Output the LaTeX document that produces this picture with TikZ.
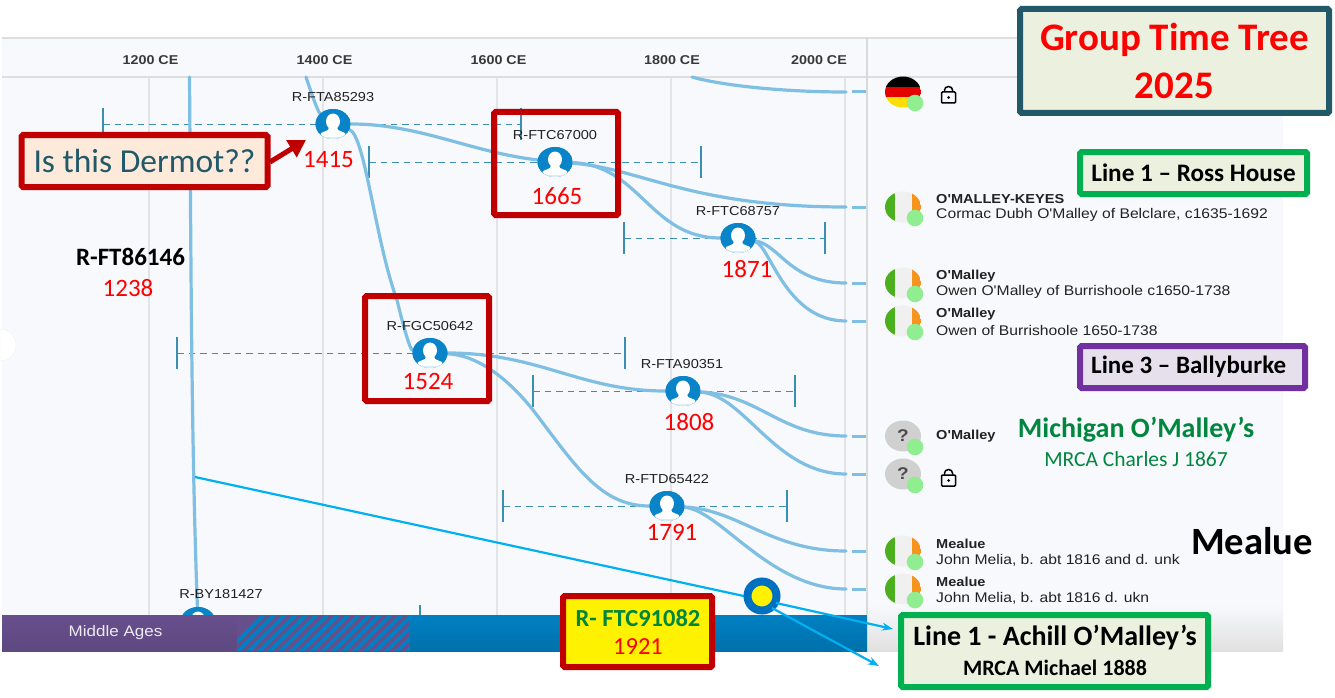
\documentclass[tikz,border=0pt]{standalone}
\usepackage{fontspec}
\setmainfont{Carlito}
\newfontfamily\uifont[FakeStretch=1.12]{Liberation Sans}
\usetikzlibrary{arrows.meta,shapes.geometric,calc}
\pgfdeclarelayer{panel}
\pgfdeclarelayer{conn}
\pgfsetlayers{panel,conn,main}
\definecolor{panelbg}{HTML}{F8F9FD}
\definecolor{gridc}{HTML}{E3E4E8}
\definecolor{branch}{HTML}{7FBFE3}
\definecolor{errc}{HTML}{3A8FB0}
\definecolor{avblue}{HTML}{0A84C8}
\definecolor{boxred}{HTML}{C00000}
\definecolor{cyanl}{HTML}{00B0F0}
\definecolor{boxgreen}{HTML}{00B050}
\definecolor{paleg}{HTML}{EBF1DE}
\definecolor{darkteal}{HTML}{215968}
\definecolor{txtg}{HTML}{00863D}
\definecolor{lightg}{HTML}{90EE90}
\definecolor{irgreen}{HTML}{4CAF20}
\definecolor{irwhite}{HTML}{F0F0F0}
\definecolor{irorange}{HTML}{F7941D}
\definecolor{qgrey}{HTML}{D0D0D0}
\definecolor{barpurple}{HTML}{674F8C}
\definecolor{barblue}{HTML}{0080C2}
\definecolor{txtdark}{HTML}{222222}
\definecolor{linepurple}{HTML}{7030A0}
\definecolor{palepurple}{HTML}{E6E0EC}
\definecolor{paleorange}{HTML}{FDEADA}
\definecolor{ringblue}{HTML}{0070C0}
\tikzset{
  x=1pt,y=-1pt,
  curve/.style={draw=branch,line width=3.2pt,line cap=round},
  errline/.style={draw=errc,line width=0.9pt,dash pattern=on 6.5pt off 5pt},
  errtick/.style={draw=errc,line width=1.2pt},
  avatarnode/.style={ellipse,fill=avblue,minimum width=35pt,minimum height=30pt,inner sep=0pt},
  cladelabel/.style={font=\uifont\fontsize{13}{14}\selectfont,text=txtdark,inner sep=0pt},
  agelabel/.style={font=\fontsize{25}{26}\selectfont,text=red,inner sep=0pt},
  axislabel/.style={font=\uifont\bfseries\fontsize{12.8}{14}\selectfont,text=txtdark!90,inner sep=0pt},
  listname/.style={font=\uifont\bfseries\fontsize{13}{15}\selectfont,text=txtdark,anchor=west,inner sep=0pt},
  listsub/.style={font=\uifont\fontsize{14}{15}\selectfont,text=txtdark,anchor=west,inner sep=0pt},
  framebox/.style={rounded corners=1.5pt,inner sep=0pt,line width=6pt,align=center},
  cyanarrow/.style={draw=cyanl,line width=2.2pt,-{Stealth[length=11pt,width=8pt]}},
}
\newcommand{\errbar}[5]{% name, x1, x2, y, clade
  \coordinate (#1lo) at (#2,#4);
  \coordinate (#1hi) at (#3,#4);
  \draw[errline] (#1lo) -- (#1hi);
  \draw[errtick] ($(#1lo)+(0,-16)$) -- ($(#1lo)+(0,16)$);
  \draw[errtick] ($(#1hi)+(0,-16)$) -- ($(#1hi)+(0,16)$);
}
\newcommand{\avatarat}[1]{%
  \begin{scope}
    \clip (#1) ellipse [x radius=17.5pt,y radius=15pt];
    \fill[avblue] (#1) ellipse [x radius=17.5pt,y radius=15pt];
    \fill[white] ($(#1)+(0,-2.5)$) ellipse [x radius=7pt,y radius=8pt];
    \fill[white] ($(#1)+(-4,3)$) -- ($(#1)+(4,3)$) -- ($(#1)+(5,6)$) -- ($(#1)+(12,9)$) -- ($(#1)+(13,16)$) -- ($(#1)+(-13,16)$) -- ($(#1)+(-12,9)$) -- ($(#1)+(-5,6)$) -- cycle;
    \fill[white!85!avblue] ($(#1)+(-17.5,12.5)$) rectangle ($(#1)+(17.5,16)$);
  \end{scope}
}
\newcommand{\irflag}[2]{% name, y
  \node[ellipse,minimum width=36pt,minimum height=31pt,inner sep=0pt] (#1) at (903,#2) {};
  \begin{scope}
    \clip (903,#2) ellipse [x radius=18pt,y radius=15.5pt];
    \fill[irwhite] (885,#2-16) rectangle (921,#2+16);
    \fill[irgreen] (885,#2-16) rectangle (895,#2+16);
    \fill[irorange] (912,#2-16) rectangle (921,#2+16);
  \end{scope}
  \fill[lightg] (915,#2+11) circle (8.3pt);
}
\newcommand{\qflag}[2]{% name, y
  \node[ellipse,fill=qgrey,minimum width=36pt,minimum height=31pt,inner sep=0pt,
        font=\uifont\bfseries\fontsize{17}{17}\selectfont,text=black!70] (#1) at (903,#2) {?};
  \fill[lightg] (915,#2+11) circle (8.3pt);
}
\newcommand{\lockicon}[2]{% x,y centre of body
  \draw[black,line width=1.5pt,rounded corners=1pt] (#1-7,#2-3.5) rectangle (#1+7,#2+7.5);
  \draw[black,line width=1.5pt] (#1-4,#2-3.5) -- (#1-4,#2-5.5) arc[start angle=180,end angle=0,x radius=4pt,y radius=3.5pt] -- (#1+4,#2-3.5);
  \fill[black] (#1,#2+2) circle (1.5pt);
}
\begin{document}
\begin{tikzpicture}
\useasboundingbox (0,0) rectangle (1335,698);
\begin{pgfonlayer}{panel}
  \fill[white] (0,0) rectangle (1335,698);
  \fill[panelbg] (2,38) rectangle (1283,651);
  \fill[top color=panelbg,bottom color=black!12] (867,605) rectangle (1283,651);
  \foreach \gx in {149,323,497,671,845}{\draw[gridc,line width=1.4pt] (\gx,77) -- (\gx,615);}
  \draw[black!13,line width=1.3pt] (2,38) -- (1020,38);
  \draw[black!13,line width=1.3pt] (2,77) -- (1020,77);
  \draw[black!15,line width=1.3pt] (867,38) -- (867,615);
  \fill[white,draw=black!6] (0,329) arc[start angle=90,end angle=-90,x radius=16pt,y radius=16pt] -- cycle;
\end{pgfonlayer}

% clade nodes
\node[avatarnode] (fta85) at (333,124) {};
\node[avatarnode] (ftc67) at (555,162) {};
\node[avatarnode] (ftc68) at (738,238) {};
\node[avatarnode] (fgc50) at (430,353) {};
\node[avatarnode] (fta90) at (683,391) {};
\node[avatarnode] (ftd65) at (667,506) {};
\node[avatarnode] (by181) at (198,622) {};
\foreach \a in {fta85,ftc67,ftc68,fgc50,fta90,ftd65,by181}{\avatarat{\a}}

% free ends
\coordinate (trunktop) at (189.5,77);
\coordinate (ftatop) at (306,77);
\coordinate (germtop) at (692,77);
\coordinate (e1) at (846,92);
\coordinate (e2) at (846,207);
\coordinate (e3) at (846,283);
\coordinate (e4) at (846,321);
\coordinate (e5) at (846,436);
\coordinate (e6) at (846,474);
\coordinate (e7) at (846,551);
\coordinate (e8) at (846,589);

\begin{pgfonlayer}{conn}
  \errbar{a}{103}{521}{124}{fta85}
  \errbar{b}{369}{701}{162}{ftc67}
  \errbar{c}{624}{825}{238}{ftc68}
  \errbar{d}{177}{625}{353}{fgc50}
  \errbar{f}{533}{795}{391}{fta90}
  \errbar{g}{503}{787}{506}{ftd65}
  \draw[errtick] (420,605) -- (420,615);
  \draw[curve] (trunktop) -- (191,270) .. controls (192,400) and (194,520) .. (by181);
  \draw[curve] (ftatop) .. controls (312,95) and (318,112) .. (fta85);
  \draw[curve] (fta85) .. controls (365,135) and (375,240) .. (397,300) .. controls (403,325) and (410,350) .. (fgc50);
  \draw[curve] (fta85) .. controls (420,124) and (470,152) .. (ftc67);
  \draw[curve] (germtop) .. controls (720,85) and (780,92) .. (e1);
  \draw[curve] (ftc67) .. controls (640,168) and (690,207) .. (e2);
  \draw[curve] (ftc67) .. controls (640,165) and (650,238) .. (ftc68);
  \draw[curve] (ftc68) .. controls (780,245) and (790,283) .. (e3);
  \draw[curve] (ftc68) .. controls (770,245) and (785,321) .. (e4);
  \draw[curve] (fgc50) .. controls (540,353) and (580,391) .. (fta90);
  \draw[curve] (fgc50) .. controls (475,355) and (505,375) .. (533,410) .. controls (575,465) and (600,506) .. (ftd65);
  \draw[curve] (fta90) .. controls (760,395) and (780,436) .. (e5);
  \draw[curve] (fta90) .. controls (745,395) and (775,474) .. (e6);
  \draw[curve] (ftd65) .. controls (740,510) and (770,551) .. (e7);
  \draw[curve] (ftd65) .. controls (720,510) and (770,589) .. (e8);
  \foreach \e in {e1,e2,e3,e4,e5,e6,e7,e8}{\draw[draw=branch,line width=3pt] ($(\e)+(6,0)$) -- ($(\e)+(20,0)$);}
\end{pgfonlayer}

% timeline bar
\fill[top color=barpurple,bottom color=barpurple!92!black] (2,615) rectangle (237,651);
\fill[top color=barblue,bottom color=barblue!88!black] (237,615) rectangle (867,651);
\begin{scope}
  \clip (237,615) rectangle (410,651);
  \fill[barpurple] (237,615) rectangle (410,651);
  \foreach \i in {0,...,19}{\fill[barblue] (225+\i*10.6,651) -- (230.3+\i*10.6,651) -- (266.3+\i*10.6,615) -- (261+\i*10.6,615) -- cycle;}
\end{scope}
\node[font=\uifont\fontsize{15.2}{16}\selectfont,text=white!88!barpurple,inner sep=0pt] (midages) at (115.5,633) {Middle Ages};

% axis
\node[axislabel] (ax12) at (150.5,60) {1200 CE};
\node[axislabel] (ax14) at (324.5,60) {1400 CE};
\node[axislabel] (ax16) at (498.5,60) {1600 CE};
\node[axislabel] (ax18) at (672,60) {1800 CE};
\node[axislabel] (ax20) at (819,60) {2000 CE};

% clade labels
\node[cladelabel] (l1) at (333,97) {R-FTA85293};
\node[cladelabel] (l2) at (555,135) {R-FTC67000};
\node[cladelabel] (l3) at (738,211) {R-FTC68757};
\node[cladelabel] (l4) at (430,326) {R-FGC50642};
\node[cladelabel] (l5) at (682,364) {R-FTA90351};
\node[cladelabel] (l6) at (667,479) {R-FTD65422};
\node[cladelabel] (l7) at (221,594) {R-BY181427};

\node[agelabel] (a1) at (328.5,160) {1415};
\node[agelabel] (a2) at (557,196) {1665};
\node[agelabel] (a3) at (747,269) {1871};
\node[agelabel] (a4) at (428,381) {1524};
\node[agelabel] (a5) at (689,422) {1808};
\node[agelabel] (a6) at (672,532) {1791};
\node[agelabel] (a7) at (128,288) {1238};
\node[font=\bfseries\fontsize{25}{26}\selectfont,inner sep=0pt] (root) at (130.5,257) {R-FT86146};

% right list
\node[ellipse,minimum width=36pt,minimum height=31pt,inner sep=0pt] (fl1) at (903,92) {};
\begin{scope}
  \clip (903,92) ellipse [x radius=18pt,y radius=15.5pt];
  \fill[black] (885,76) rectangle (921,87);
  \fill[red!90!black] (885,87) rectangle (921,97);
  \fill[yellow!80!orange] (885,97) rectangle (921,108);
\end{scope}
\fill[lightg] (915,103) circle (8.3pt);
\lockicon{948.5}{95.5}
\irflag{fl2}{207}
\irflag{fl3}{283}
\irflag{fl4}{321}
\qflag{fl5}{436}
\qflag{fl6}{474}
\irflag{fl7}{551}
\irflag{fl8}{589}
\lockicon{948.5}{478.5}

\node[listname] (n2) at (936,199.5) {O'MALLEY-KEYES};
\node[listsub] (s2) at (936,215) {Cormac Dubh O'Malley of Belclare, c1635-1692};
\node[listname] (n3) at (936,276) {O'Malley};
\node[listsub] (s3) at (936,292) {Owen O'Malley of Burrishoole c1650-1738};
\node[listname] (n4) at (936,314) {O'Malley};
\node[listsub] (s4) at (936,330) {Owen of Burrishoole 1650-1738};
\node[listname] (n5) at (936,436.5) {O'Malley};
\node[listname] (n7) at (936,544) {Mealue};
\node[listsub] (s7) at (936,560) {John Melia, b. abt 1816 and d. unk};
\node[listname] (n8) at (936,582) {Mealue};
\node[listsub] (s8) at (936,598) {John Melia, b. abt 1816 d. ukn};

% annotations
\node[draw=darkteal,fill=paleg,framebox,minimum width=309pt,minimum height=104pt,font=\bfseries\fontsize{39}{48}\selectfont,text=red] (title) at (1174.5,61) {Group Time Tree\\2025};
\node[draw=boxgreen,fill=paleg,framebox,minimum width=227pt,minimum height=42pt,font=\bfseries\fontsize{25.2}{28}\selectfont] (ross) at (1193.5,173) {Line 1 -- Ross House};
\node[draw=linepurple,fill=palepurple,framebox,minimum width=225pt,minimum height=42pt] (bally) at (1192.5,367) {};
\node[font=\bfseries\fontsize{25}{28}\selectfont,inner sep=0pt,anchor=west] (ballyt) at (1091,367) {Line 3 -- Ballyburke};
\node[font=\bfseries\fontsize{28}{30}\selectfont,text=txtg,inner sep=0pt] (mich) at (1136,430) {Michigan O’Malley’s};
\node[font=\fontsize{21.5}{24}\selectfont,text=txtg,inner sep=0pt] (mrca) at (1136,459) {MRCA Charles J 1867};
\node[font=\bfseries\fontsize{38.6}{40}\selectfont,inner sep=0pt] (meal) at (1252,541) {Mealue};

\node[draw=boxred,fill=paleorange,framebox,minimum width=246pt,minimum height=52pt,font=\fontsize{33.5}{36}\selectfont,text=darkteal] (dermot) at (144.5,161) {Is this Dermot??};
\coordinate (dermottip) at (306,140);
\draw[draw=boxred,line width=5pt,-{Triangle[length=17pt,width=19pt]}] (270,162) -- (dermottip);
\node[draw=boxred,framebox,minimum width=124pt,minimum height=103pt] (boxa) at (556,163.5) {};
\node[draw=boxred,framebox,minimum width=124pt,minimum height=105pt] (boxb) at (427,348.5) {};

\coordinate (cstart) at (195,477);
\draw[draw=cyanl,line width=2.2pt] (cstart) -- (776,603);
\node[circle,draw=ringblue,fill=yellow,line width=8pt,minimum size=29pt,inner sep=0pt] (ftcdot) at (762,596) {};
\node[draw=boxgreen,fill=paleg,framebox,minimum width=307pt,minimum height=72pt] (achill) at (1054.5,651) {};
\node[font=\bfseries\fontsize{28}{30}\selectfont,inner sep=0pt] (achillt) at (1055,638) {Line 1 - Achill O’Malley’s};
\node[font=\bfseries\fontsize{22}{24}\selectfont,inner sep=0pt] (achills) at (1055,668) {MRCA Michael 1888};
\coordinate (tip1) at (893,629);
\coordinate (tip2) at (879,666);
\draw[cyanarrow] (ftcdot) ++(14,7) -- (tip1);
\draw[cyanarrow] (ftcdot) ++(10,12) -- (tip2);
\node[draw=boxred,fill=yellow,framebox,minimum width=149pt,minimum height=71pt] (ybox) at (637.5,631.5) {};
\node[font=\bfseries\fontsize{24.5}{26}\selectfont,text=txtg,inner sep=0pt] (yt) at (638,618) {R- FTC91082};
\node[font=\fontsize{24.5}{26}\selectfont,text=red,inner sep=0pt] (ys) at (638,647) {1921};
\end{tikzpicture}
\end{document}
